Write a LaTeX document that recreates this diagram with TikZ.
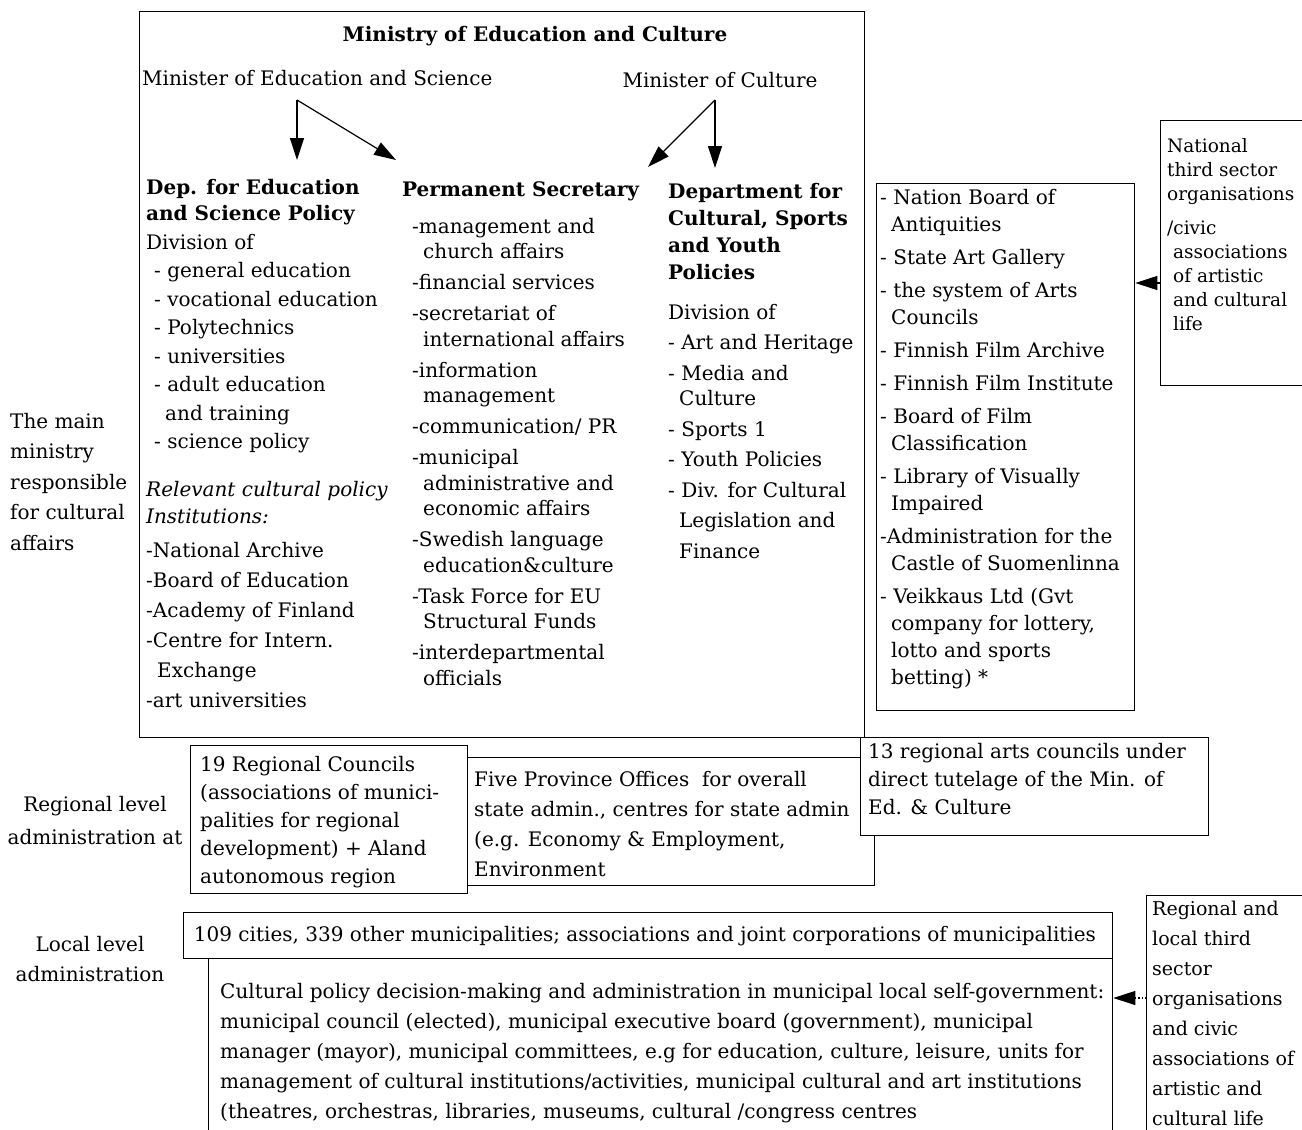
\documentclass[tikz,border=0pt]{standalone}
\usepackage{fontspec}
\setmainfont{DejaVu Serif}
\usetikzlibrary{arrows.meta}

\newcommand{\ind}{\hspace*{11pt}}

\tikzset{
  box/.style={draw, line width=1.3pt, fill=white, anchor=north west, inner sep=0pt},
  txt/.style={anchor=north west, align=left, inner sep=0pt, font=\fontsize{20}{25.5}\selectfont},
  bold/.style={txt, font=\fontsize{20}{26}\selectfont\bfseries},
  arr/.style={line width=1.2pt, -{Triangle[length=22pt,width=14pt]}},
}

\begin{document}
\begin{tikzpicture}[x=1pt, y=-1pt]
    \useasboundingbox (0,0) rectangle (1302,1130);
    \clip (0,0) rectangle (1302,1130);

    % boxes
    \node[box, minimum width=725pt, minimum height=726pt] (ministry) at (139,11) {};
    \node[box, minimum width=258pt, minimum height=527pt] (antiq) at (876,183) {};
    \node[box, minimum width=160pt, minimum height=265pt] (third) at (1160,120) {};
    \node[box, minimum width=277pt, minimum height=148pt] (council) at (190,745) {};
    \node[box, minimum width=407pt, minimum height=128pt] (province) at (467,757) {};
    \node[box, minimum width=348pt, minimum height=98pt] (artscouncil) at (860,737) {};
    \node[box, minimum width=929pt, minimum height=46pt] (cities) at (183,912) {};
    \node[box, minimum width=904pt, minimum height=182pt] (selfgov) at (208,958) {};
    \node[box, minimum width=174pt, minimum height=245pt] (localthird) at (1146,895) {};

    % ministry
    \node[bold, anchor=center] (title) at (535,36) {Ministry of Education and Culture};
    \node[txt, anchor=west] (minedu) at (142,78) {Minister of Education and Science};
    \node[txt, anchor=center] (mincult) at (720,80) {Minister of Culture};

    \node[bold] (depedu) at (146,179) {Dep. for Education\\and Science Policy};
    \node[txt, font=\fontsize{20}{28.5}\selectfont] (divedu) at (146,234)
        {Division of\\\hspace*{8pt}- general education\\\hspace*{8pt}- vocational education\\\hspace*{8pt}- Polytechnics\\\hspace*{8pt}- universities\\\hspace*{8pt}- adult education\\\hspace*{19pt}and training\\\hspace*{8pt}- science policy};
    \node[txt, font=\fontsize{20}{27}\selectfont\itshape] (relevant) at (146,481) {Relevant cultural policy\\Institutions:};
    \node[txt, font=\fontsize{20}{30}\selectfont] (instedu) at (146,542)
        {-National Archive\\-Board of Education\\-Academy of Finland\\-Centre for Intern.\\\ind Exchange\\-art universities};

    \node[bold] (permsec) at (402,181) {Permanent Secretary};
    \node[txt] (permlist) at (412,218)
        {-management and\\\ind church affairs\\[5.5pt]-financial services\\[5.5pt]-secretariat of\\\ind international affairs\\[5.5pt]-information\\\ind management\\[5.5pt]-communication/ PR\\[5.5pt]-municipal\\\ind administrative and\\\ind economic affairs\\[5.5pt]-Swedish language\\\ind education\&culture\\[5.5pt]-Task Force for EU\\\ind Structural Funds\\[5.5pt]-interdepartmental\\\ind officials};

    \node[bold, font=\fontsize{20}{27}\selectfont\bfseries] (depcult) at (668,183) {Department for\\Cultural, Sports\\and Youth\\Policies};
    \node[txt, font=\fontsize{20}{30.5}\selectfont] (divcult) at (668,304)
        {Division of\\- Art and Heritage\\- Media and\\[-5pt]\ind Culture\\- Sports 1\\- Youth Policies\\- Div. for Cultural\\\ind Legislation and\\\ind Finance};

    \coordinate (edu0) at (297,100);
    \coordinate (edu1) at (297,160);
    \coordinate (edu2) at (396,160);
    \coordinate (cult0) at (715,100);
    \coordinate (cult1) at (715,168);
    \coordinate (cult2) at (648,167);
    \draw[arr] (edu0) -- (edu1);
    \draw[arr] (edu0) -- (edu2);
    \draw[arr] (cult0) -- (cult1);
    \draw[arr] (cult0) -- (cult2);

    \node[txt, font=\fontsize{20}{30.5}\selectfont] (mainlabel) at (10,413) {The main\\ministry\\responsible\\for cultural\\affairs};

    % national institutions
    \node[txt, font=\fontsize{20}{27}\selectfont] (antiqlist) at (880,189)
        {- Nation Board of\\\ind Antiquities\\[6pt]- State Art Gallery\\[6pt]- the system of Arts\\\ind Councils\\[6pt]- Finnish Film Archive\\[6pt]- Finnish Film Institute\\[6pt]- Board of Film\\\ind Classification\\[6pt]- Library of Visually\\\ind Impaired\\[6pt]-Administration for the\\\ind Castle of Suomenlinna\\[6pt]- Veikkaus Ltd (Gvt\\\ind company for lottery,\\\ind lotto and sports\\\ind betting) *};
    \node[txt, font=\fontsize{18.5}{24}\selectfont] (thirdtext) at (1167,138)
        {National\\third sector\\organisations\\[10pt]/civic\\\hspace*{6pt}associations\\\hspace*{6pt}of artistic\\\hspace*{6pt}and cultural\\\hspace*{6pt}life};
    \coordinate (t3) at (1160,283);
    \draw[arr] (t3) -- (antiq.east |- t3);

    % regional level
    \node[txt, anchor=center, align=center, font=\fontsize{20}{33}\selectfont] (reglabel) at (95,821) {Regional level\\administration at};
    \node[txt, font=\fontsize{20}{28}\selectfont] (counciltext) at (200,756)
        {19 Regional Councils\\(associations of munici-\\palities for regional\\development) + Aland\\autonomous region};
    \node[txt, font=\fontsize{20}{30}\selectfont] (provincetext) at (474,771)
        {Five Province Offices\ \ for overall\\state admin., centres for state admin\\(e.g. Economy \& Employment,\\Environment};
    \node[txt, font=\fontsize{20}{28}\selectfont] (artstext) at (868,743)
        {13 regional arts councils under\\direct tutelage of the Min. of\\Ed. \& Culture};

    % local level
    \node[txt, anchor=center, align=center, font=\fontsize{20}{30}\selectfont] (loclabel) at (90,959) {Local level\\administration};
    \node[txt, anchor=center] (citiestext) at (645,936)
        {109 cities, 339 other municipalities; associations and joint corporations of municipalities};
    \node[txt, font=\fontsize{20}{30}\selectfont] (selfgovtext) at (220,983)
        {Cultural policy decision-making and administration in municipal local self-government:\\municipal council (elected), municipal executive board (government), municipal\\manager (mayor), municipal committees, e.g for education, culture, leisure, units for\\management of cultural institutions/activities, municipal cultural and art institutions\\(theatres, orchestras, libraries, museums, cultural /congress centres};
    \node[txt, font=\fontsize{19}{30}\selectfont] (localthirdtext) at (1152,901)
        {Regional and\\local third\\sector\\organisations\\and civic\\associations of\\artistic and\\cultural life};
    \coordinate (l3) at (1146,998);
    \draw[arr, dotted] (l3) -- (selfgov.east |- l3);
\end{tikzpicture}
\end{document}
